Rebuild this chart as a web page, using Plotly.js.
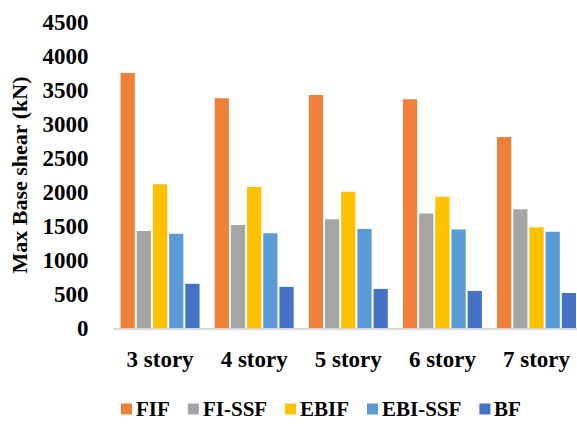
<!DOCTYPE html>
<html>
<head>
<meta charset="utf-8">
<script src="https://cdn.plot.ly/plotly-3.0.1.min.js"></script>
<style>html,body{margin:0;padding:0;background:#fff;}#chart{width:577px;height:424px;}</style>
</head>
<body>
<div id="chart"></div>
<script>
const categories = ["3 story", "4 story", "5 story", "6 story", "7 story"];
const seriesNames = ["FIF", "FI-SSF", "EBIF", "EBI-SSF", "BF"];
const FIF = [3750, 3380, 3425, 3365, 2810];
const FI_SSF = [1425, 1515, 1600, 1685, 1745];
const EBIF = [2115, 2075, 2005, 1930, 1480];
const EBI_SSF = [1385, 1395, 1455, 1450, 1415];
const BF = [650, 605, 575, 545, 515];
const yTicks = [0, 500, 1000, 1500, 2000, 2500, 3000, 3500, 4000, 4500];

const values = [FIF, FI_SSF, EBIF, EBI_SSF, BF];
const colors = ["#F07F3A", "#A5A5A5", "#FFC000", "#5B9BD5", "#4472C4"];
const font = "Liberation Serif";

const W = 577, H = 424;
const M = { l: 113, r: 0, t: 22, b: 96 };
const plotW = W - M.l - M.r, plotH = H - M.t - M.b;

const traces = seriesNames.map((n, i) => ({
  type: "bar",
  name: n,
  x: categories,
  y: values[i],
  marker: { color: colors[i], line: { width: 0 } },
  hoverinfo: "skip",
  showlegend: false
}));

// custom legend (square + label), laid out left-to-right from measured text widths
const legFont = 21;
const ctx = document.createElement("canvas").getContext("2d");
ctx.font = "bold " + legFont + "px '" + font + "'";
const shapes = [], annotations = [];
let px = 121;            // legend start, pixels
const legY = 409;        // legend row centre, pixels
const sq = 11;
const toPx = x => (x - M.l) / plotW;
const toPy = y => (H - M.b - y) / plotH;
seriesNames.forEach((n, i) => {
  shapes.push({
    type: "rect", xref: "paper", yref: "paper",
    x0: toPx(px), x1: toPx(px + sq), y0: toPy(legY - sq / 2), y1: toPy(legY + sq / 2),
    fillcolor: colors[i], line: { width: 0 }
  });
  const tx = px + sq + 4;
  const tw = ctx.measureText(n).width;
  annotations.push({
    xref: "paper", yref: "paper", x: toPx(tx - 2), y: toPy(legY),
    xanchor: "left", yanchor: "middle", showarrow: false, text: n,
    font: { family: font, size: legFont, color: "#000", weight: "bold" }
  });
  px = tx + tw + 18;
});

const layout = {
  width: W, height: H,
  margin: { l: M.l, r: M.r, t: M.t, b: M.b, autoexpand: false },
  paper_bgcolor: "#fff", plot_bgcolor: "#fff",
  barmode: "group", bargap: 0.14, bargroupgap: 0.12,
  font: { family: font, color: "#000" },
  xaxis: {
    range: [-0.5, 4.43],
    showgrid: false, zeroline: false,
    showline: true, linecolor: "#D9D9D9", linewidth: 2,
    ticks: "outside", ticklen: 9, tickcolor: "rgba(0,0,0,0)",
    tickfont: { family: font, size: 23, color: "#000", weight: "bold" },
    automargin: false,
    fixedrange: true
  },
  yaxis: {
    range: [0, 4500],
    tickvals: yTicks,
    ticktext: yTicks.map(String),
    showgrid: false, zeroline: false, showline: false,
    ticks: "outside", ticklen: 19, tickcolor: "rgba(0,0,0,0)",
    tickfont: { family: font, size: 23, color: "#000", weight: "bold" },
    title: { text: "Max Base shear (kN)", font: { family: font, size: 22, color: "#000", weight: "bold" }, standoff: 8 },
    automargin: false,
    fixedrange: true
  },
  showlegend: false,
  shapes: shapes,
  annotations: annotations
};

Plotly.newPlot("chart", traces, layout, { displayModeBar: false, staticPlot: true });
</script>
</body>
</html>
